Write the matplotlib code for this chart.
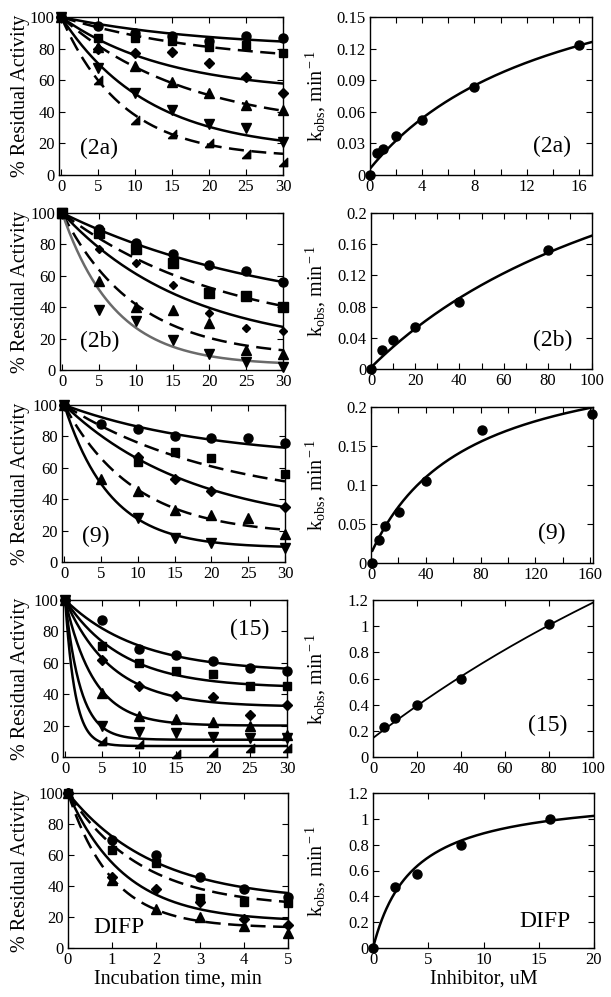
import numpy as np
import matplotlib
matplotlib.use('Agg')
import matplotlib.pyplot as plt
from matplotlib.ticker import MultipleLocator, FuncFormatter

plt.rcParams['font.family'] = ['Liberation Serif', 'DejaVu Serif']
plt.rcParams['mathtext.fontset'] = 'custom'
plt.rcParams['mathtext.rm'] = 'Liberation Serif'
plt.rcParams['mathtext.it'] = 'Liberation Serif:italic'

nan = np.nan

# incubation times
t30 = [0, 5, 10, 15, 20, 25, 30]
t5 = [0, 1, 2, 3, 4, 5]

# (2a) residual activity
a2_circle = [100, 94, 90, 88, 85, 88, 87]
a2_square = [100, 87, 87, 85, 81, 82, 77]
a2_diamond = [100, 80, 77, 78, 71, 62, 52]
a2_up = [100, 81, 69, 59, 52, 44, 41]
a2_down = [100, 68, 52, 41, 32, 30, 21]
a2_tri = [100, 60, 35, 26, 20, 13, 8]
a2_plateau = [80, 70, 52, 28, 15, 11]
a2_rate = [0.05, 0.05, 0.07, 0.058, 0.085, 0.12]

# (2b)
b2_circle = [100, 90, 81, 74, 67, 63, 56]
b2_square = [100, 87, 77, 68, 49, 47, 40]
b2_diamond = [100, 77, 68, 54, 36, 27, 25]
b2_up = [100, 57, 40, 38, 30, 13, 10]
b2_down = [100, 38, 31, 19, 10, 5, 2]
b2_plateau = [30, 20, 12, 8, 3]
b2_rate = [0.033, 0.045, 0.058, 0.1, 0.14]

# (9)
n9_circle = [100, 88, 85, 80, 79, 79, 76]
n9_square = [100, nan, 64, 70, 66, nan, 56]
n9_diamond = [100, nan, 67, 53, 45, nan, 35]
n9_up = [100, 53, 45, 33, 30, 28, 18]
n9_down = [100, nan, 28, 15, 12, nan, 9]
n9_plateau = [65, 35, 20, 17, 9]
n9_rate = [0.05, 0.046, 0.056, 0.105, 0.16]

# (15)
p15_circle = [100, 87, 69, 65, 61, 57, 55]
p15_square = [100, 71, 60, 55, 53, 45, 45]
p15_diamond = [100, 62, 45, 39, 38, 27, 33]
p15_up = [100, 41, 26, 24, 22, 20, 14]
p15_down = [100, 20, 16, 15, 13, 12, 12]
p15_tri = [100, 10, 8, 2, 3, 6, 6]
p15_plateau = [54, 44, 32, 20, 11, 7]
p15_rate = [0.1, 0.128, 0.158, 0.258, 0.48, 0.75]

# DIFP
d_circle = [100, 70, 60, 46, 38, 33]
d_square = [100, 63, 55, 32, 30, 29]
d_diamond = [100, 46, 38, 30, 19, 15]
d_up = [100, 44, 25, 20, 14, 10]
d_plateau = [30, 26, 17, 13]
d_rate = [0.51, 0.6, 0.78, 1.0]

# kobs vs inhibitor
conc_2a = [0, 0.5, 1, 2, 4, 8, 16]
kobs_2a = [0, 0.021, 0.025, 0.037, 0.052, 0.084, 0.123]
fit_2a = (0.006, 0.225, 14.8)
conc_2b = [0, 5, 10, 20, 40, 80]
kobs_2b = [0, 0.025, 0.037, 0.054, 0.086, 0.152]
fit_2b = (0.002, 0.4225, 150)
conc_9 = [1, 5.5, 10.5, 20.5, 40.5, 81, 161]
kobs_9 = [0, 0.03, 0.047, 0.065, 0.105, 0.171, 0.191]
fit_9 = (0.012, 0.268, 69.4)
conc_15 = [5, 10, 20, 40, 80]
kobs_15 = [0.23, 0.30, 0.40, 0.60, 1.02]
fit_15 = (0.145, 5.175, 400)
conc_difp = [0, 2, 4, 8, 16]
kobs_difp = [0, 0.47, 0.57, 0.80, 1.00]
fit_difp = (0.0, 1.207, 3.6)

TRI = [(-1, -1), (1, -1), (1, 1), (-1, -1)]
W, H = 611, 997

fig = plt.figure(figsize=(W / 100, H / 100), dpi=100)


def add_ax(l, r, t, b):
    return fig.add_axes([l / W, 1 - b / H, (r - l) / W, (b - t) / H])


def style(ax):
    ax.tick_params(which='both', direction='in', top=True, right=True,
                   length=4.5, width=0.8, labelsize=12, pad=3)
    for s in ax.spines.values():
        s.set_linewidth(1.0)
    ax.xaxis.set_major_formatter(FuncFormatter(lambda v, p: f'{v:g}'))
    ax.yaxis.set_major_formatter(FuncFormatter(lambda v, p: f'{v:g}'))


def decay_panel(ax, t, series, markers, sizes, plateaus, rates, lines, tmax):
    tt = np.linspace(0, tmax, 300)
    for p, k, ls in zip(plateaus, rates, lines):
        y = p + (100 - p) * np.exp(-k * tt)
        if ls == 'gray':
            ax.plot(tt, y, color='#6a6a6a', lw=1.8)
        elif ls == '--':
            ax.plot(tt, y, color='k', lw=1.8, dashes=(6, 3))
        else:
            ax.plot(tt, y, color='k', lw=1.8)
    for ys, m, ms in zip(series, markers, sizes):
        ax.plot(t, ys, ls='none', marker=m, ms=ms, color='k', clip_on=False)
    ax.set_ylim(0, 100)
    ax.yaxis.set_major_locator(MultipleLocator(20))


def kobs_panel(ax, conc, kobs, fit, xmax, x0=0.0, lw=1.8):
    c, kmax, K = fit
    xx = np.linspace(x0, xmax, 300)
    ax.plot(xx, c + kmax * xx / (K + xx), color='k', lw=lw)
    ax.plot(conc, kobs, ls='none', marker='o', ms=6.5, color='k', clip_on=False)
    ax.set_xlim(0, xmax)


# row positions (px): left panels, right panels
left_pos = [(59, 283, 17, 175), (60, 283, 213, 370), (62, 285, 405, 562),
            (63, 287, 600, 757), (68, 288, 793, 948)]
right_pos = [(370, 592, 17, 175), (371, 592, 213, 369), (371, 593, 407, 563),
             (373, 593, 600, 757), (373, 594, 793, 948)]

mk6 = ['o', 's', 'D', '^', 'v', TRI]
sz6 = [6.5, 6, 5.5, 6.5, 6.5, 6]

# row 1
ax = add_ax(*left_pos[0])
decay_panel(ax, t30, [a2_circle, a2_square, a2_diamond, a2_up, a2_down, a2_tri],
            mk6, sz6, a2_plateau, a2_rate, ['-', '--', '-', '--', '-', '--'], 30)
ax.set_xlim(-0.3, 30)
ax.xaxis.set_major_locator(MultipleLocator(5))
style(ax)
ax.text(0.18, 0.17, '(2a)', transform=ax.transAxes, fontsize=17, ha='center', va='center')

ax = add_ax(*right_pos[0])
kobs_panel(ax, conc_2a, kobs_2a, fit_2a, 17)
ax.set_ylim(0, 0.15)
ax.xaxis.set_major_locator(MultipleLocator(4))
ax.xaxis.set_minor_locator(MultipleLocator(2))
ax.yaxis.set_major_locator(MultipleLocator(0.03))
style(ax)
ax.text(0.82, 0.18, '(2a)', transform=ax.transAxes, fontsize=17, ha='center', va='center')

# row 2
ax = add_ax(*left_pos[1])
decay_panel(ax, t30, [b2_circle, b2_square, b2_diamond, b2_up, b2_down],
            ['o', 's', 'D', '^', 'v'], [6.5, 6.5, 4.5, 6.5, 6.5],
            b2_plateau, b2_rate, ['-', '--', '-', '--', 'gray'], 30)
ax.set_xlim(-0.3, 30)
ax.xaxis.set_major_locator(MultipleLocator(5))
style(ax)
ax.text(0.18, 0.18, '(2b)', transform=ax.transAxes, fontsize=17, ha='center', va='center')

ax = add_ax(*right_pos[1])
kobs_panel(ax, conc_2b, kobs_2b, fit_2b, 100)
ax.set_ylim(0, 0.2)
ax.xaxis.set_major_locator(MultipleLocator(20))
ax.xaxis.set_minor_locator(MultipleLocator(10))
ax.yaxis.set_major_locator(MultipleLocator(0.04))
style(ax)
ax.text(0.82, 0.18, '(2b)', transform=ax.transAxes, fontsize=17, ha='center', va='center')

# row 3
ax = add_ax(*left_pos[2])
decay_panel(ax, t30, [n9_circle, n9_square, n9_diamond, n9_up, n9_down],
            ['o', 's', 'D', '^', 'v'], [6.5, 6, 5.5, 6.5, 6.5],
            n9_plateau, n9_rate, ['-', '--', '-', '--', '-'], 30)
ax.set_xlim(-0.3, 30)
ax.xaxis.set_major_locator(MultipleLocator(5))
style(ax)
ax.text(0.15, 0.16, '(9)', transform=ax.transAxes, fontsize=17, ha='center', va='center')

ax = add_ax(*right_pos[2])
kobs_panel(ax, conc_9, kobs_9, fit_9, 162, x0=1)
ax.set_ylim(0, 0.2)
ax.xaxis.set_major_locator(MultipleLocator(40))
ax.xaxis.set_minor_locator(MultipleLocator(20))
ax.yaxis.set_major_locator(MultipleLocator(0.05))
style(ax)
ax.text(0.815, 0.19, '(9)', transform=ax.transAxes, fontsize=17, ha='center', va='center')

# row 4
ax = add_ax(*left_pos[3])
decay_panel(ax, t30, [p15_circle, p15_square, p15_diamond, p15_up, p15_down, p15_tri],
            mk6, sz6, p15_plateau, p15_rate, ['-'] * 6, 30)
ax.set_xlim(-0.3, 30)
ax.xaxis.set_major_locator(MultipleLocator(5))
style(ax)
ax.text(0.835, 0.81, '(15)', transform=ax.transAxes, fontsize=17, ha='center', va='center')

ax = add_ax(*right_pos[3])
kobs_panel(ax, conc_15, kobs_15, fit_15, 100, lw=1.3)
ax.set_ylim(0, 1.2)
ax.xaxis.set_major_locator(MultipleLocator(20))
ax.yaxis.set_major_locator(MultipleLocator(0.2))
style(ax)
ax.text(0.795, 0.2, '(15)', transform=ax.transAxes, fontsize=17, ha='center', va='center')

# row 5
ax = add_ax(*left_pos[4])
decay_panel(ax, t5, [d_circle, d_square, d_diamond, d_up],
            ['o', 's', 'D', '^'], [6.5, 6, 5.5, 6.5],
            d_plateau, d_rate, ['-', '--', '-', '--'], 5)
ax.set_xlim(0, 5)
ax.xaxis.set_major_locator(MultipleLocator(1))
style(ax)
ax.text(0.23, 0.135, 'DIFP', transform=ax.transAxes, fontsize=17, ha='center', va='center')
ax.set_xlabel('Incubation time, min', fontsize=14.5, labelpad=1)

ax = add_ax(*right_pos[4])
kobs_panel(ax, conc_difp, kobs_difp, fit_difp, 20)
ax.set_ylim(0, 1.2)
ax.xaxis.set_major_locator(MultipleLocator(5))
ax.yaxis.set_major_locator(MultipleLocator(0.2))
style(ax)
ax.text(0.78, 0.17, 'DIFP', transform=ax.transAxes, fontsize=17, ha='center', va='center')
ax.set_xlabel('Inhibitor, uM', fontsize=14.5, labelpad=1)

# y labels
for (l, r, t, b) in left_pos:
    fig.text(21 / W, 1 - (t + b) / 2 / H, '% Residual Activity', rotation=90,
             fontsize=14.5, ha='center', va='center')
for (l, r, t, b) in right_pos:
    fig.text(316 / W, 1 - (t + b) / 2 / H, r'k$_{\rm obs}$, min$^{\rm -1}$', rotation=90,
             fontsize=14.5, ha='center', va='center')

fig.savefig('out.png', dpi=100)
